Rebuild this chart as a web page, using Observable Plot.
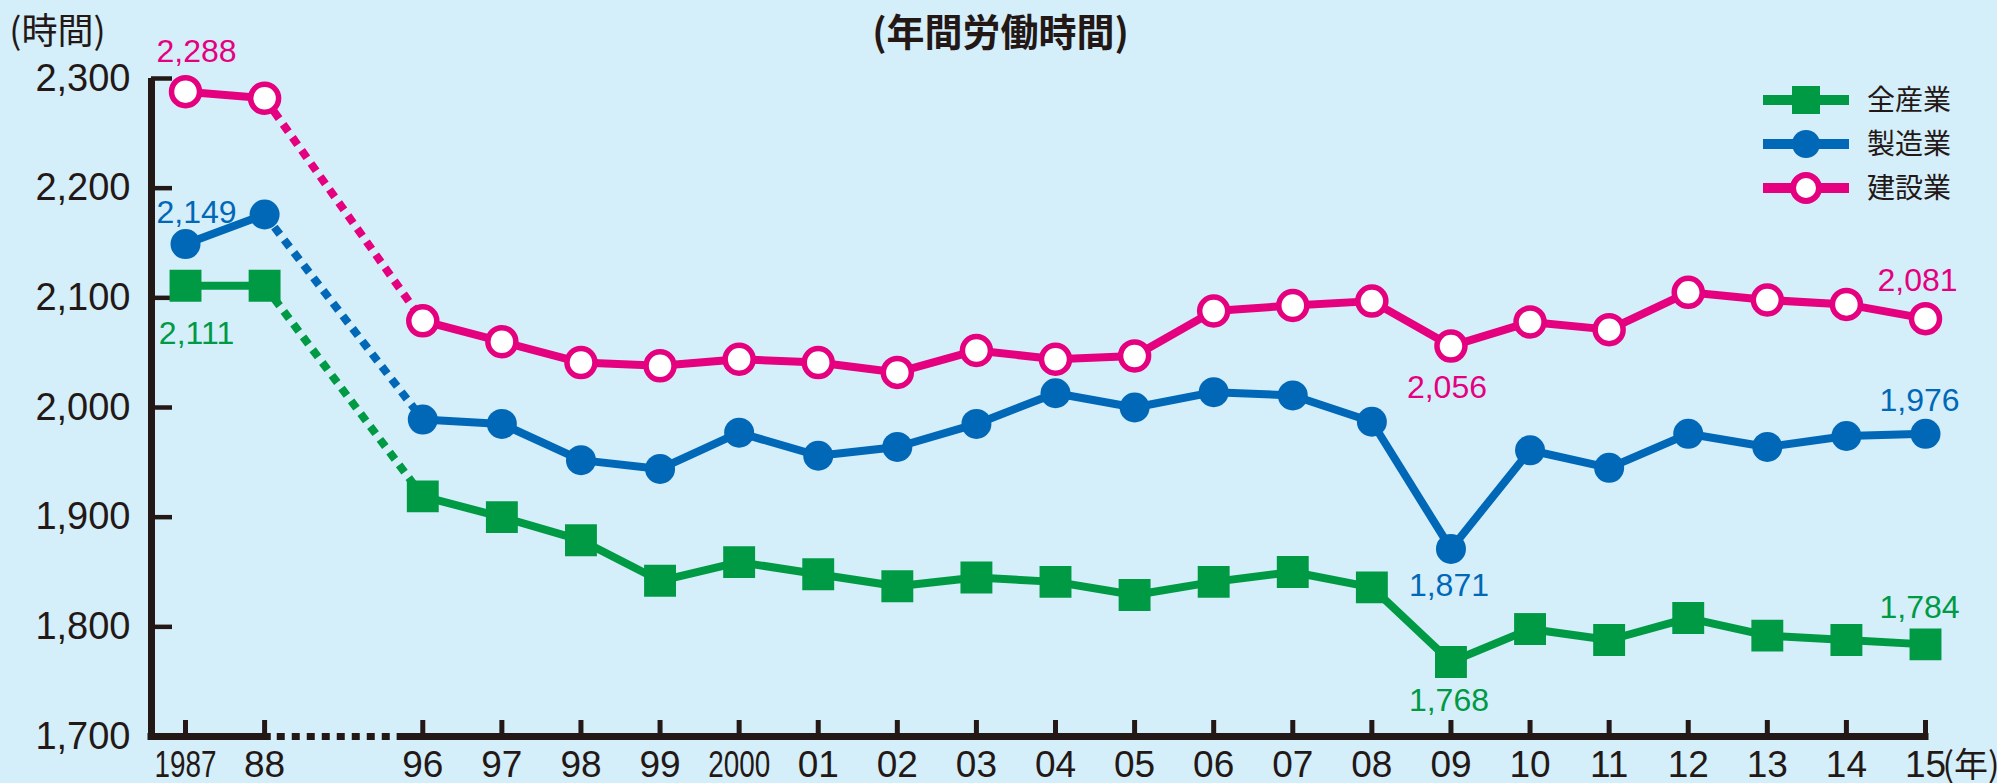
<!DOCTYPE html>
<html lang="ja">
<head>
<meta charset="utf-8">
<script src="https://cdn.jsdelivr.net/npm/d3@7"></script>
<script src="https://cdn.jsdelivr.net/npm/@observablehq/plot@0.6"></script>
<style>
  html, body { margin: 0; padding: 0; background: #d4eefa; overflow: hidden; }
  #chart { position: relative; width: 1997px; height: 783px; }
  #legend { position: absolute; left: 1755px; top: 76px; }
</style>
</head>
<body>
<div id="chart"></div>
<script>
// 年間労働時間の推移（全産業・製造業・建設業）
const SERIES = ["全産業", "製造業", "建設業"];
const COLORS = ["#009a44", "#0068b7", "#e4007f"];

const years = [1987, 1988, 1996, 1997, 1998, 1999, 2000, 2001, 2002, 2003, 2004,
               2005, 2006, 2007, 2008, 2009, 2010, 2011, 2012, 2013, 2014, 2015];
const yearLabels = ["1987", "88", "96", "97", "98", "99", "2000", "01", "02", "03", "04",
                    "05", "06", "07", "08", "09", "10", "11", "12", "13", "14", "15"];

const allIndustries = [2111, 2111, 1919, 1900, 1879, 1842, 1859, 1848, 1837, 1845, 1841,
                       1829, 1841, 1850, 1836, 1768, 1798, 1788, 1808, 1792, 1788, 1784];
const manufacturing = [2149, 2176, 1989, 1985, 1952, 1944, 1977, 1956, 1964, 1985, 2013,
                       2000, 2014, 2011, 1987, 1871, 1961, 1945, 1976, 1964, 1974, 1976];
const construction  = [2288, 2282, 2079, 2060, 2041, 2038, 2044, 2041, 2032, 2052, 2044,
                       2047, 2088, 2093, 2097, 2056, 2078, 2071, 2105, 2098, 2094, 2081];

const yTicks = [1700, 1800, 1900, 2000, 2100, 2200, 2300];
const labelledYears = [1987, 2009, 2015];

// ---- layout ----
const W = 1997, H = 783;
const M = {top: 78, right: 72, bottom: 47, left: 151};
const AXIS = "#231815";
const NUM_FONT = "'Liberation Sans', Arial, Helvetica, sans-serif";
const CJK_FONT = "'Noto Sans CJK JP', 'Noto Sans', sans-serif";

// each skipped stretch of years leaves one empty slot on the x axis
const slots = years.map((yr, i) =>
  i + years.slice(1, i + 1).filter((y, k) => y - years[k] > 1).length);
const gapIndex = years.findIndex((y, i) => i > 0 && y - years[i - 1] > 1);

const X0 = -0.43;                       // the y axis sits just left of the first year
const X1 = slots[slots.length - 1];
const xUnit = (W - M.left - M.right) / (X1 - X0);
const yUnit = (H - M.top - M.bottom) / (yTicks[yTicks.length - 1] - yTicks[0]);

const valuesBySeries = [allIndustries, manufacturing, construction];
const rows = SERIES.flatMap((s, si) => years.map((yr, i) => ({
  series: s, year: yr, slot: slots[i], value: valuesBySeries[si][i],
  segment: slots[i] - i
})));
// dotted connection across the skipped years
const bridge = rows.filter(d => d.year === years[gapIndex - 1] || d.year === years[gapIndex]);

// label offsets (px) for the annotated points
const labelOffset = {
  "全産業": {1987: [11, 48],  2009: [-2, 39], 2015: [-6, -37]},
  "製造業": {1987: [11, -31], 2009: [-2, 37], 2015: [-6, -33]},
  "建設業": {1987: [11, -40], 2009: [-4, 42], 2015: [-8, -38]}
};

const fmt = d3.format(",");
const left = slots[gapIndex - 1], right = slots[gapIndex];

const valueLabels = SERIES.flatMap((s, si) => labelledYears.map(yr => {
  const [dx, dy] = labelOffset[s][yr];
  return Plot.text(rows.filter(d => d.series === s && d.year === yr), {
    x: "slot", y: "value", text: d => fmt(d.value),
    fill: COLORS[si], fontSize: 32, fontFamily: NUM_FONT,
    dx, dy, lineAnchor: "middle"
  });
}));

const plot = Plot.plot({
  width: W, height: H,
  marginTop: M.top, marginRight: M.right, marginBottom: M.bottom, marginLeft: M.left,
  x: {domain: [X0, X1], axis: null},
  y: {domain: [yTicks[0], yTicks[yTicks.length - 1]], axis: null},
  color: {domain: SERIES, range: COLORS},
  style: {background: "#d4eefa", overflow: "visible"},
  marks: [
    // axes
    Plot.ruleX([X0], {y1: yTicks[0], y2: yTicks[yTicks.length - 1], stroke: AXIS, strokeWidth: 7}),
    Plot.ruleY([yTicks[0]], {x1: X0, x2: left + 0.04, stroke: AXIS, strokeWidth: 7, strokeLinecap: "square"}),
    Plot.ruleY([yTicks[0]], {x1: left + 0.16, x2: right - 0.37, stroke: AXIS, strokeWidth: 7, strokeDasharray: "8,7"}),
    Plot.ruleY([yTicks[0]], {x1: right - 0.28, x2: X1, stroke: AXIS, strokeWidth: 7, strokeLinecap: "square"}),
    Plot.ruleY(yTicks, {y: d => d, x1: X0, x2: X0 + 21 / xUnit, stroke: AXIS, strokeWidth: 4.5}),
    Plot.ruleX(slots, {x: d => d, y1: yTicks[0], y2: yTicks[0] + 16 / yUnit, stroke: AXIS, strokeWidth: 5}),
    Plot.text(yTicks, {
      y: d => d, frameAnchor: "left", text: d => fmt(d), textAnchor: "end", dx: -21,
      lineAnchor: "middle", fontSize: 38, fontFamily: NUM_FONT, fill: AXIS
    }),
    Plot.text(yearLabels, {
      x: (d, i) => slots[i], frameAnchor: "bottom", text: d => d, dy: 40,
      lineAnchor: "bottom", fontSize: 37, fontFamily: NUM_FONT, fill: AXIS
    }),
    Plot.text(["(年)"], {
      frameAnchor: "bottom-right", textAnchor: "start", dx: 17, dy: 40,
      lineAnchor: "bottom", fontSize: 34, fontFamily: CJK_FONT, fill: AXIS
    }),
    Plot.text(["(時間)"], {
      frameAnchor: "top-left", textAnchor: "middle", dx: -94, dy: -46,
      lineAnchor: "middle", fontSize: 36, fontFamily: CJK_FONT, fill: AXIS
    }),
    Plot.text(["(年間労働時間)"], {
      frameAnchor: "top", dx: -38, dy: -33, lineAnchor: "bottom",
      fontSize: 38, fontWeight: "bold", fontFamily: CJK_FONT, fill: AXIS
    }),

    // series lines
    Plot.line(rows, {
      x: "slot", y: "value", z: d => d.series + d.segment, stroke: "series",
      strokeWidth: 8, strokeLinejoin: "round"
    }),
    Plot.line(bridge, {
      x: "slot", y: "value", z: "series", stroke: "series",
      strokeWidth: 8, strokeDasharray: "9,7", strokeLinecap: "butt"
    }),

    // markers
    Plot.dot(rows.filter(d => d.series === SERIES[0]), {
      x: "slot", y: "value", symbol: "square", r: 18, fill: COLORS[0]
    }),
    Plot.dot(rows.filter(d => d.series === SERIES[1]), {
      x: "slot", y: "value", r: 15, fill: COLORS[1]
    }),
    Plot.dot(rows.filter(d => d.series === SERIES[2]), {
      x: "slot", y: "value", r: 14, fill: "white", stroke: COLORS[2], strokeWidth: 5.5
    }),

    ...valueLabels
  ]
});

// four-digit year labels are set condensed
d3.select(plot).selectAll("text")
  .filter(function () { return /^\d{4}$/.test(this.textContent); })
  .attr("textLength", 62)
  .attr("lengthAdjust", "spacingAndGlyphs");

const chart = document.getElementById("chart");
chart.appendChild(plot);

// legend
const legend = d3.create("svg")
  .attr("id", "legend")
  .attr("width", 240)
  .attr("height", 140);
const rowGap = 44;
SERIES.forEach((s, i) => {
  const g = legend.append("g").attr("transform", `translate(0,${24 + i * rowGap})`);
  g.append("line").attr("x1", 8).attr("x2", 94)
    .attr("stroke", COLORS[i]).attr("stroke-width", 10);
  if (i === 0) {
    g.append("rect").attr("x", 51 - 14).attr("y", -14).attr("width", 28).attr("height", 28)
      .attr("fill", COLORS[i]);
  } else if (i === 1) {
    g.append("circle").attr("cx", 51).attr("r", 14).attr("fill", COLORS[i]);
  } else {
    g.append("circle").attr("cx", 51).attr("r", 13).attr("fill", "white")
      .attr("stroke", COLORS[i]).attr("stroke-width", 6);
  }
  g.append("text").attr("x", 112).attr("dy", "0.36em")
    .attr("font-family", CJK_FONT).attr("font-size", 28).attr("fill", AXIS)
    .text(s);
});
chart.appendChild(legend.node());
</script>
</body>
</html>
